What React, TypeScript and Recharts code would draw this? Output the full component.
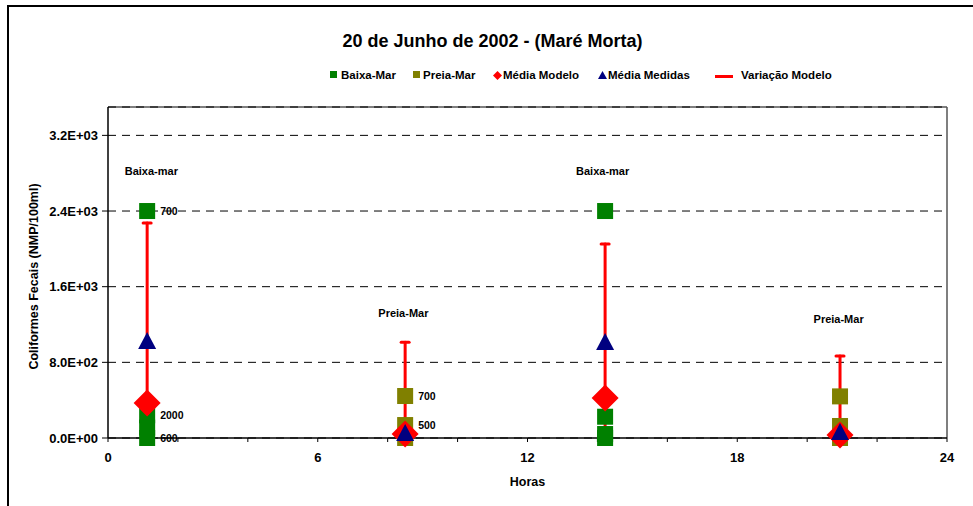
import React from 'react';
import {
  ComposedChart, Scatter, XAxis, YAxis, CartesianGrid, ReferenceLine, ErrorBar, Legend, Label,
} from 'recharts';

// ---------- data ----------
const baixaMarX = [1.12, 1.12, 1.12, 1.12, 14.22, 14.22, 14.22, 14.22];
const baixaMarY = [2400, 240, 110, 0, 2400, 225, 42, 0];
const baixaMarLabels = ['700', '2000', '', '600', '', '', '', ''];

const preiaMarX = [8.5, 8.5, 8.5, 20.94, 20.94, 20.94];
const preiaMarY = [444, 137, 0, 440, 127, 0];
const preiaMarLabels = ['700', '500', '', '', '', ''];

const mediaX = [1.12, 8.5, 14.22, 20.94];
const mediaModelo = [370, 42, 423, 32];
const mediaMedidas = [1025, 53, 1015, 63];
const variacaoMin = [0, 0, 0, 0];
const variacaoMax = [2273, 1012, 2051, 867];

const annotX = [1.24, 8.45, 14.15, 20.9];
const annotY = [2823, 1322, 2823, 1258];
const annotText = ['Baixa-mar', 'Preia-Mar', 'Baixa-mar', 'Preia-Mar'];

const xTicks = [0, 2, 4, 6, 8, 10, 12, 14, 16, 18, 20, 22, 24];
const xLabelTicks = [0, 6, 12, 18, 24];
const yTicks = [0, 800, 1600, 2400, 3200];

const title = '20 de Junho de 2002 - (Maré Morta)';
const yTitle = 'Coliformes Fecais (NMP/100ml)';
const xTitle = 'Horas';

const legendNames = ['Baixa-Mar', 'Preia-Mar', 'Média Modelo', 'Média Medidas', 'Variação Modelo'];

// ---------- derived tables ----------
const baixaData = baixaMarX.map((x, i) => ({ x, y: baixaMarY[i], label: baixaMarLabels[i] }));
const preiaData = preiaMarX.map((x, i) => ({ x, y: preiaMarY[i], label: preiaMarLabels[i] }));
const modeloData = mediaX.map((x, i) => ({ x, y: mediaModelo[i] }));
const medidasData = mediaX.map((x, i) => ({ x, y: mediaMedidas[i] }));
const variacaoData = mediaX.map((x, i) => ({ x, y: variacaoMin[i], err: [0, variacaoMax[i] - variacaoMin[i]] }));
const annotData = annotX.map((x, i) => ({ x, y: annotY[i], text: annotText[i] }));

const FONT = '"Liberation Sans", Arial, sans-serif';
const GREEN = '#008000';
const OLIVE = '#808000';
const RED = '#FF0000';
const NAVY = '#000080';

const sci = (v: number) => {
  if (v === 0) return '0.0E+00';
  const e = Math.floor(Math.log10(Math.abs(v)));
  const m = v / Math.pow(10, e);
  return m.toFixed(1) + 'E' + (e < 0 ? '-' : '+') + String(Math.abs(e)).padStart(2, '0');
};

const makeSquare = (color: string) => (props: any) => {
  const { cx, cy, payload } = props;
  return (
    <g>
      <rect x={cx - 8} y={cy - 8} width={16} height={16} fill={color} />
      {payload && payload.label ? (
        <text x={cx + 13} y={cy} dy="0.35em" fontSize={10.5} fontWeight="bold" fontFamily={FONT} fill="#000">
          {payload.label}
        </text>
      ) : null}
    </g>
  );
};

const Diamond = (props: any) => {
  const { cx, cy } = props;
  const r = 13.5;
  return <polygon points={`${cx},${cy - r} ${cx + r},${cy} ${cx},${cy + r} ${cx - r},${cy}`} fill={RED} />;
};

const Triangle = (props: any) => {
  const { cx, cy } = props;
  return <polygon points={`${cx},${cy - 9} ${cx + 9},${cy + 8} ${cx - 9},${cy + 8}`} fill={NAVY} />;
};

const Empty = () => <g />;

const AnnotText = (props: any) => {
  const { cx, cy, payload } = props;
  return (
    <text x={cx} y={cy} dy="0.35em" textAnchor="middle" fontSize={11} fontWeight="bold" fontFamily={FONT} fill="#000">
      {payload.text}
    </text>
  );
};

const XTick = (props: any) => {
  const { x, y, payload } = props;
  if (!xLabelTicks.includes(payload.value)) return <g />;
  return (
    <text x={x} y={y} dy="0.71em" textAnchor="middle" fontSize={13} fontWeight="bold" fontFamily={FONT} fill="#000">
      {payload.value}
    </text>
  );
};

const legendItemStyle: React.CSSProperties = {
  position: 'absolute', top: 0, fontSize: 11.5, fontWeight: 'bold', fontFamily: FONT,
  lineHeight: '12px', color: '#000', whiteSpace: 'nowrap',
};

const LegendContent = () => {
  const iconLeft = [330, 413, 493, 598, 715];
  const textLeft = [341, 423, 503, 608, 741];
  const icons = [
    <svg width={8} height={8}><rect x={0} y={0} width={7} height={7} fill={GREEN} /></svg>,
    <svg width={8} height={8}><rect x={0} y={0} width={7} height={7} fill={OLIVE} /></svg>,
    <svg width={9} height={9}><polygon points="4.5,0 9,4.5 4.5,9 0,4.5" fill={RED} /></svg>,
    <svg width={9} height={8}><polygon points="4.5,0 9,8 0,8" fill={NAVY} /></svg>,
    <svg width={18} height={4}><rect x={0} y={0} width={18} height={3} fill={RED} /></svg>,
  ];
  const iconTop = [2, 2, 1.5, 1.5, 4.5];
  return (
    <div style={{ position: 'relative', width: 973, height: 14 }}>
      {legendNames.map((n, i) => (
        <React.Fragment key={n}>
          <div style={{ position: 'absolute', left: iconLeft[i], top: iconTop[i], lineHeight: 0 }}>{icons[i]}</div>
          <div style={{ ...legendItemStyle, left: textLeft[i] }}>{n}</div>
        </React.Fragment>
      ))}
    </div>
  );
};

export default function App() {
  return (
    <div style={{ position: 'absolute', left: 0, top: 0, width: 973, height: 506, overflow: 'hidden', background: '#fff' }}>
      <div style={{ position: 'absolute', left: 7, top: 5, width: 990, height: 520, borderLeft: '2px solid #000', borderTop: '2px solid #000' }} />
      <div style={{ position: 'absolute', left: 0, top: 31, width: 985, textAlign: 'center', fontFamily: FONT, fontWeight: 'bold', fontSize: 18, lineHeight: 'normal', color: '#000' }}>
        {title}
      </div>
      <div style={{ position: 'absolute', left: 0, top: 0 }}>
        <ComposedChart width={973} height={506} margin={{ top: 107, right: 26, bottom: 18, left: 8 }}>
          <CartesianGrid vertical={false} stroke="#000" strokeDasharray="8 6" />
          <XAxis
            type="number" dataKey="x" domain={[0, 24]} ticks={xTicks} interval={0}
            height={50} tickSize={4} tickMargin={11} tick={<XTick />}
            axisLine={{ stroke: '#000', strokeWidth: 1.5 }} tickLine={{ stroke: '#000' }}
          >
            <Label content={(p: any) => {
              const vb = p.viewBox || { x: 108, y: 438, width: 839, height: 50 };
              return (
                <text x={vb.x + vb.width / 2} y={vb.y + 48} textAnchor="middle" fontSize={12.5} fontWeight="bold" fontFamily={FONT} fill="#000">
                  {xTitle}
                </text>
              );
            }} />
          </XAxis>
          <YAxis
            type="number" dataKey="y" domain={[0, 3500]} ticks={yTicks} interval={0} width={100}
            tickSize={6} tickMargin={4} tickFormatter={sci}
            tick={{ fill: '#000', fontSize: 13, fontWeight: 'bold', fontFamily: FONT }}
            axisLine={{ stroke: '#000', strokeWidth: 1.5 }} tickLine={{ stroke: '#000' }}
          >
            <Label content={(p: any) => {
              const vb = p.viewBox || { x: 8, y: 107, width: 100, height: 331 };
              const cx = vb.x + 26;
              const cy = vb.y + vb.height / 2 + 4;
              return (
                <text x={cx} y={cy} transform={`rotate(-90 ${cx} ${cy})`} dy="0.35em" textAnchor="middle" fontSize={12.5} fontWeight="bold" fontFamily={FONT} fill="#000">
                  {yTitle}
                </text>
              );
            }} />
          </YAxis>
          <ReferenceLine y={3500} stroke="#000" strokeWidth={1} />
          <ReferenceLine x={24} stroke="#555" strokeWidth={1.5} />
          <Legend verticalAlign="middle" align="center" layout="horizontal"
            wrapperStyle={{ top: 69, left: 0, width: 973, height: 14 }} content={<LegendContent />} />
          <Scatter name="Variação Modelo" data={variacaoData} shape={<Empty />} isAnimationActive={false} legendType="none">
            <ErrorBar dataKey="err" direction="y" width={4} stroke={RED} strokeWidth={3} strokeLinecap="round" isAnimationActive={false} />
          </Scatter>
          <Scatter name="Baixa-Mar" data={baixaData} shape={makeSquare(GREEN)} fill={GREEN} isAnimationActive={false} />
          <Scatter name="Preia-Mar" data={preiaData} shape={makeSquare(OLIVE)} fill={OLIVE} isAnimationActive={false} />
          <Scatter name="Média Modelo" data={modeloData} shape={<Diamond />} fill={RED} isAnimationActive={false} />
          <Scatter name="Média Medidas" data={medidasData} shape={<Triangle />} fill={NAVY} isAnimationActive={false} />
          <Scatter name="annotations" data={annotData} shape={<AnnotText />} isAnimationActive={false} legendType="none" />
        </ComposedChart>
      </div>
    </div>
  );
}
